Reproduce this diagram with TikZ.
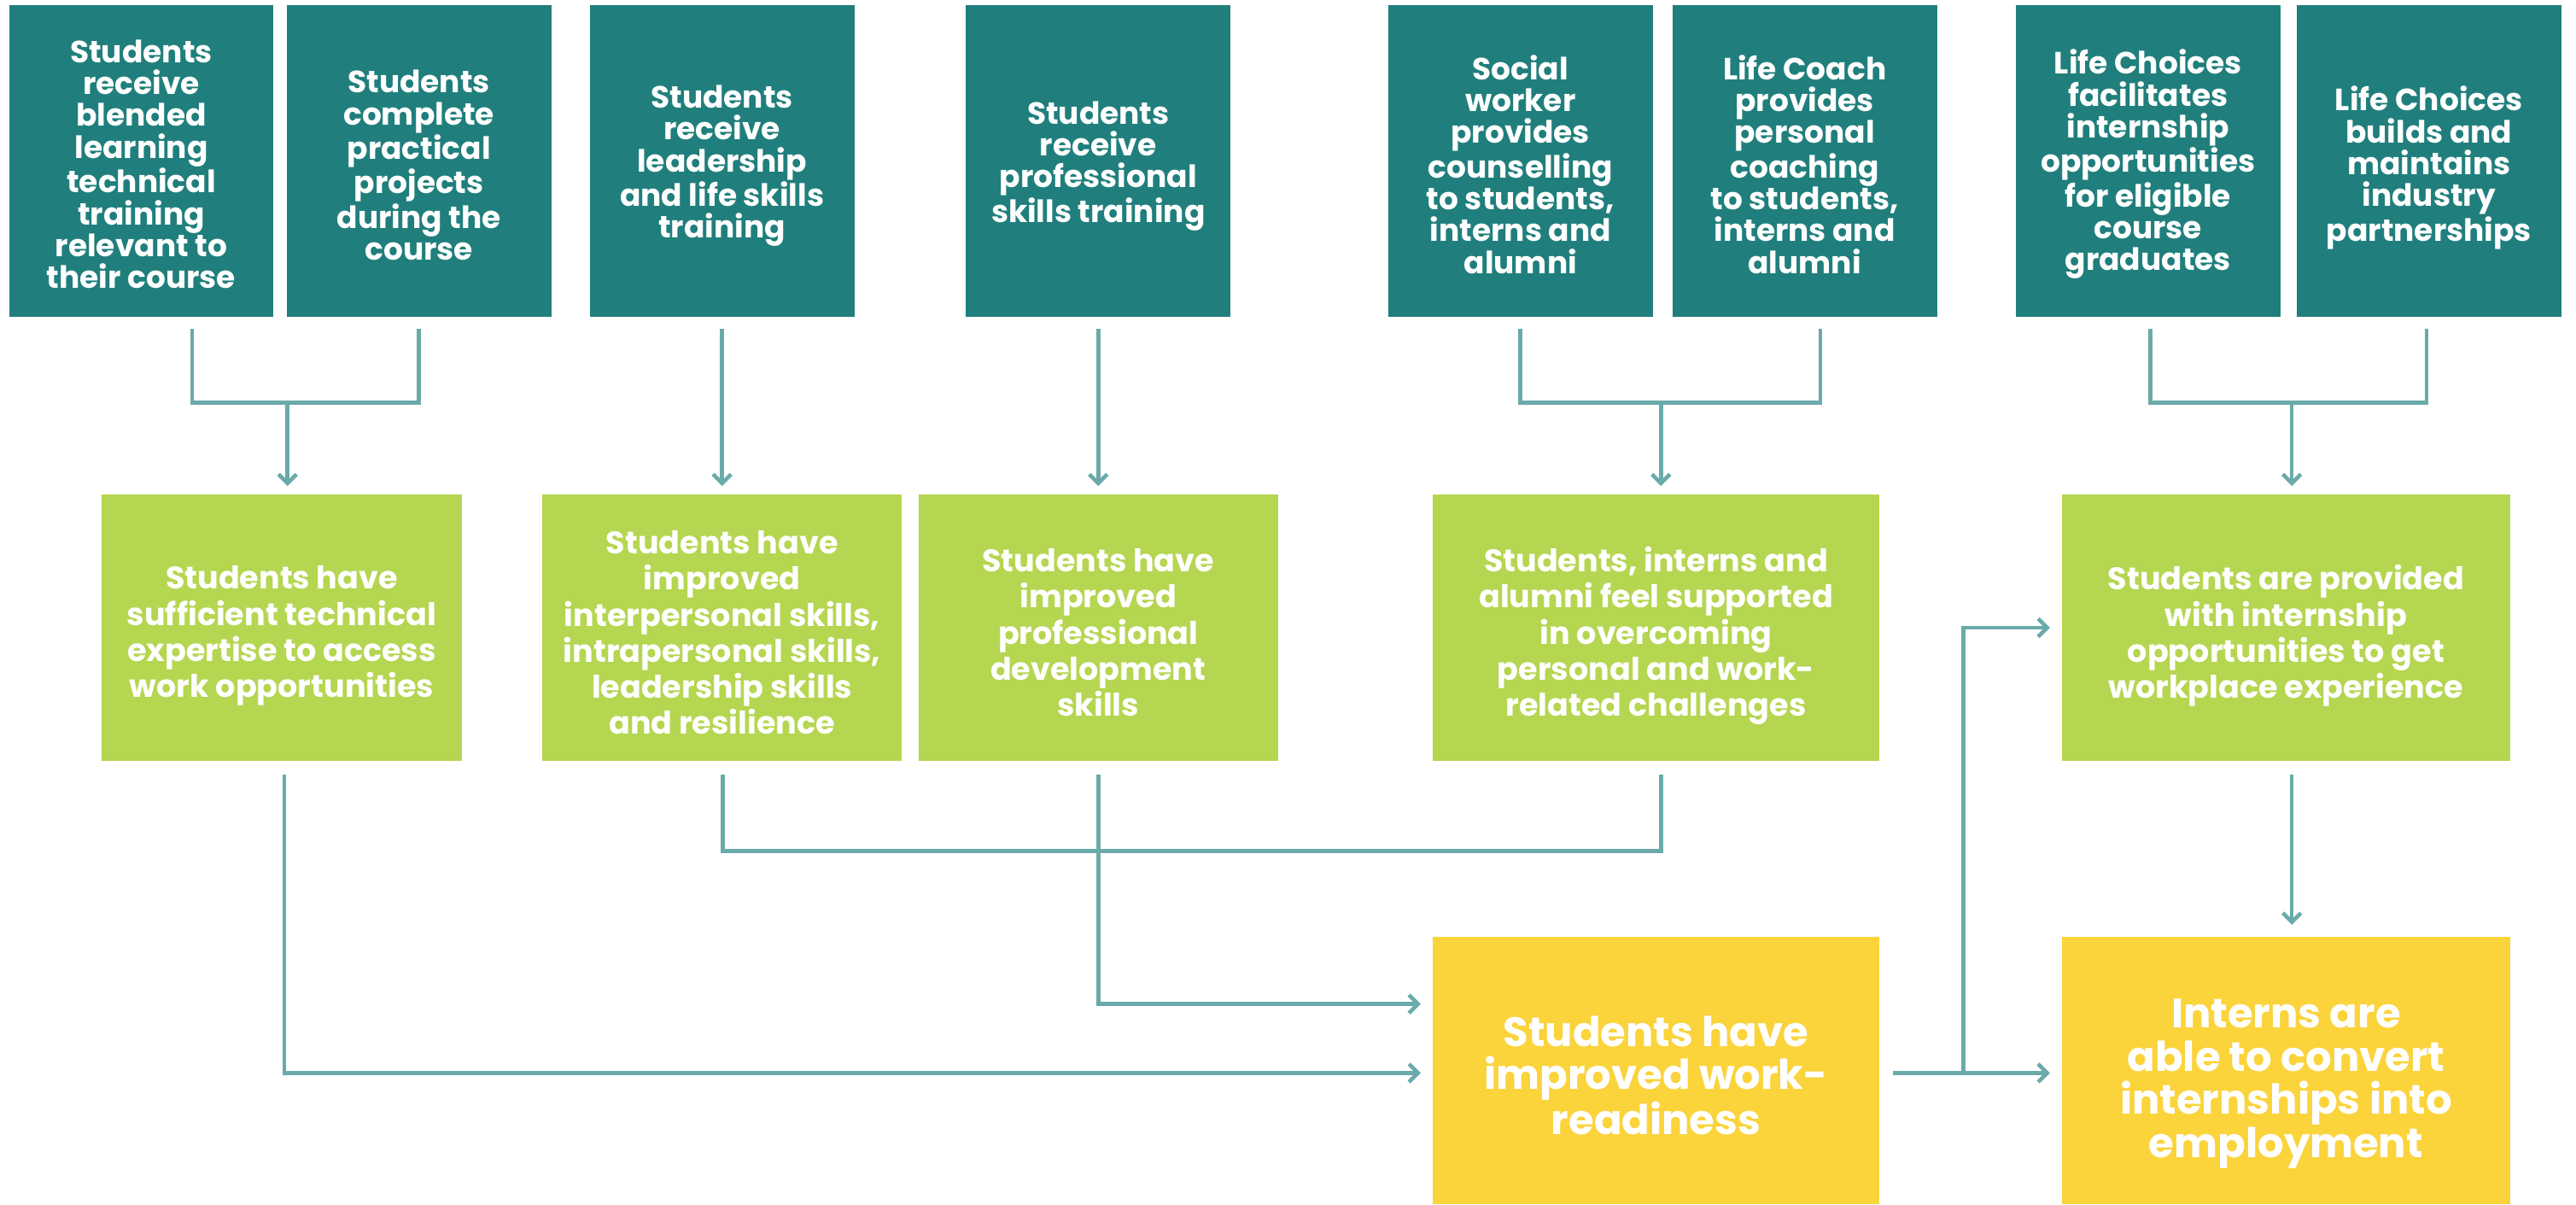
\documentclass[tikz,border=0pt]{standalone}
\usepackage{fontspec}
\setmainfont{Poppins}
\usetikzlibrary{arrows.meta}
\definecolor{tealbox}{HTML}{207F7C}
\definecolor{greenbox}{HTML}{B5D651}
\definecolor{yellowbox}{HTML}{FBD33B}
\definecolor{linkcol}{HTML}{6BAAAA}
\tikzset{
  box/.style={inner sep=0pt},
  activity/.style={box, fill=tealbox, minimum width=161pt, minimum height=190pt},
  outcome/.style={box, fill=greenbox, minimum height=162pt},
  goal/.style={box, fill=yellowbox, minimum width=272pt, minimum height=163pt},
  label text/.style={inner sep=0pt, text=white, align=center},
  activity text/.style={label text, font=\fontsize{18.7}{19.4}\selectfont\bfseries},
  outcome text/.style={label text, font=\fontsize{19}{22}\selectfont\bfseries},
  goal text/.style={label text, font=\fontsize{25}{26.3}\selectfont\bfseries},
  link/.style={draw=linkcol, line width=2.4pt},
  arr/.style={link, -{Straight Barb[length=5.5pt,width=11pt,line width=2.4pt]}}
}
\begin{document}
\begin{tikzpicture}[x=1pt,y=-1pt]
\useasboundingbox (0,0) rectangle (1568,733);
\fill[white] (0,0) rectangle (1568,733);

% activities
\node[activity] (t1) at (86,98) {};
\node[activity] (t2) at (255,98) {};
\node[activity] (t3) at (439.5,98) {};
\node[activity] (t4) at (668.5,98) {};
\node[activity] (t5) at (925.5,98) {};
\node[activity] (t6) at (1098.5,98) {};
\node[activity] (t7) at (1307.5,98) {};
\node[activity] (t8) at (1478.5,98) {};
\node[activity text] (t1t) at ([yshift=-2pt]t1.center) {Students\\receive\\blended\\learning\\technical\\training\\relevant to\\their course};
\node[activity text] (t2t) at ([yshift=-2.5pt]t2.center) {Students\\complete\\practical\\projects\\during the\\course};
\node[activity text] (t3t) at ([yshift=-3pt]t3.center) {Students\\receive\\leadership\\and life skills\\training};
\node[activity text] (t4t) at ([yshift=-3pt]t4.center) {Students\\receive\\professional\\skills training};
\node[activity text] (t5t) at ([yshift=-2pt]t5.center) {Social\\worker\\provides\\counselling\\to students,\\interns and\\alumni};
\node[activity text] (t6t) at ([yshift=-2pt]t6.center) {Life Coach\\provides\\personal\\coaching\\to students,\\interns and\\alumni};
\node[activity text] (t7t) at ([yshift=-2pt]t7.center) {Life Choices\\facilitates\\internship\\opportunities\\for eligible\\course\\graduates};
\node[activity text] (t8t) at ([yshift=-4pt]t8.center) {Life Choices\\builds and\\maintains\\industry\\partnerships};

% intermediate outcomes
\node[outcome, minimum width=219pt] (g1) at (171.5,382) {};
\node[outcome, minimum width=219pt] (g2) at (439.5,382) {};
\node[outcome, minimum width=219pt] (g3) at (668.5,382) {};
\node[outcome, minimum width=272pt] (g4) at (1008,382) {};
\node[outcome, minimum width=273pt] (g5) at (1391.5,382) {};
\node[outcome text] (g1t) at ([yshift=-5pt]g1.center) {Students have\\sufficient technical\\expertise to access\\work opportunities};
\node[outcome text] (g2t) at ([yshift=-3pt]g2.center) {Students have\\improved\\interpersonal skills,\\intrapersonal skills,\\leadership skills\\and resilience};
\node[outcome text] (g3t) at ([yshift=-3pt]g3.center) {Students have\\improved\\professional\\development\\skills};
\node[outcome text] (g4t) at ([yshift=-5pt]g4.center) {Students, interns and\\alumni feel supported\\in overcoming\\personal and work-\\related challenges};
\node[outcome text] (g5t) at ([yshift=-5pt]g5.center) {Students are provided\\with internship\\opportunities to get\\workplace experience};

% long-term outcomes
\node[goal] (y1) at (1008,651.5) {};
\node[goal, minimum width=273pt] (y2) at (1391.5,651.5) {};
\node[goal text] (y1t) at ([yshift=-3pt]y1.center) {Students have\\improved work-\\readiness};
\node[goal text] (y2t) at ([yshift=-8pt]y2.center) {Interns are\\able to convert\\internships into\\employment};

% activities to outcomes
\coordinate (j1) at (175,245);
\coordinate (j2) at (1011,245);
\coordinate (j3) at (1395,245);
\draw[link] ([xshift=31pt,yshift=-7pt]t1.south) |- (j1) -| ([yshift=-7pt]t2.south);
\draw[arr] (j1) -- ([yshift=5pt]g1.north -| j1);
\draw[arr] ([yshift=-7pt]t3.south) -- ([yshift=5pt]g2.north);
\draw[arr] ([yshift=-7pt]t4.south) -- ([yshift=5pt]g3.north);
\draw[link] ([yshift=-7pt]t5.south) |- (j2) -| ([xshift=9.5pt,yshift=-7pt]t6.south);
\draw[arr] (j2) -- ([yshift=5pt]g4.north -| j2);
\draw[link] ([xshift=1.5pt,yshift=-7pt]t7.south) |- (j3) -| ([xshift=-1.5pt,yshift=-7pt]t8.south);
\draw[arr] (j3) -- ([yshift=5pt]g5.north -| j3);

% outcomes to work-readiness
\coordinate (j4) at (1011,518);
\draw[arr] ([xshift=1.5pt,yshift=-8pt]g1.south) |- ([xshift=-7pt,yshift=-1.5pt]y1.west);
\draw[arr] ([yshift=-8pt]g3.south) |- ([xshift=-7pt,yshift=40.5pt]y1.west);
\draw[link] ([xshift=0.5pt,yshift=-8pt]g2.south) |- (j4) -- ([xshift=3pt,yshift=-8pt]g4.south);

% work-readiness to internships and employment
\coordinate (b1) at (1195,653);
\draw[arr] ([xshift=8pt,yshift=-1.5pt]y1.east) -- ([xshift=-7pt,yshift=-1.5pt]y2.west);
\draw[arr] (b1) |- ([xshift=-7pt]g5.west);
\draw[arr] ([xshift=3.5pt,yshift=-8pt]g5.south) -- ([xshift=3.5pt,yshift=7pt]y2.north);
\end{tikzpicture}
\end{document}
